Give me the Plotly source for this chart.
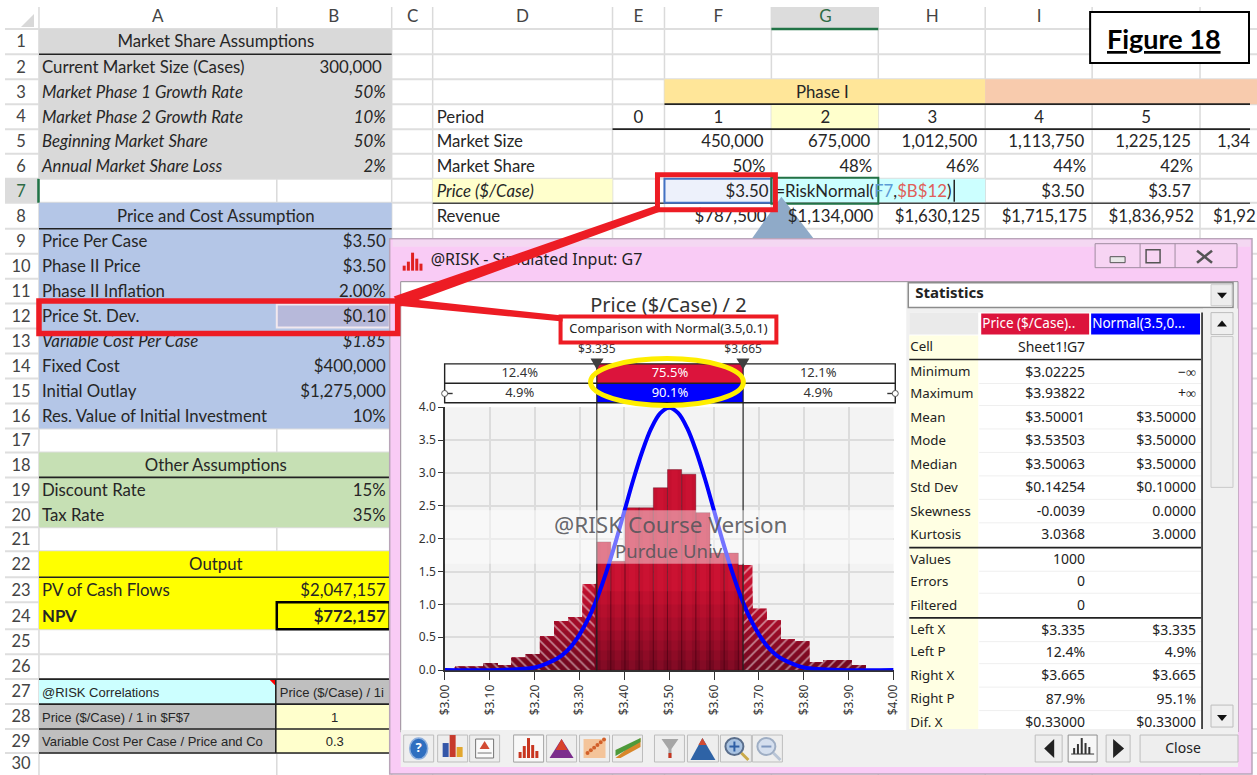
import numpy as np
import plotly.graph_objects as go
from collections import defaultdict

W, H = 1257, 775
OFF = 8
FW, FH = W - 2 * OFF, H - 2 * OFF   # span of the plot area on the page

# ---------- chart data ----------
hist_min, hist_max = 3.02225, 3.93822
hist_density = [0.05, 0.05, 0.11, 0.07, 0.19, 0.24, 0.51, 0.745, 0.805, 1.31,
                1.95, 1.655, 2.47, 2.47, 2.775, 3.05, 2.98, 2.395, 1.78, 1.78,
                1.6, 0.935, 0.755, 0.465, 0.44, 0.115, 0.145, 0.145, 0.07]
left_x, right_x = 3.335, 3.665
normal_x = [3.0, 3.1, 3.2, 3.24, 3.26, 3.28, 3.3, 3.32, 3.34, 3.36, 3.38, 3.4, 3.42, 3.44, 3.46, 3.48, 3.5,
            3.52, 3.54, 3.56, 3.58, 3.6, 3.62, 3.64, 3.66, 3.68, 3.7, 3.72, 3.74, 3.76, 3.8, 3.9, 4.0]
normal_y = [0.0, 0.0, 0.04, 0.14, 0.22, 0.35, 0.54, 0.79, 1.11, 1.5, 1.94, 2.42, 2.9, 3.33, 3.68, 3.91, 3.99,
            3.91, 3.68, 3.33, 2.9, 2.42, 1.94, 1.5, 1.11, 0.79, 0.54, 0.35, 0.22, 0.14, 0.04, 0.0, 0.0]
band_top = ["12.4%", "75.5%", "12.1%"]
band_bot = ["4.9%", "90.1%", "4.9%"]

# ---------- sheet data ----------
row_edges = [28, 53.3, 78.3, 103.3, 128.3, 153, 178, 202, 228, 253, 278, 303, 328, 353, 378, 403, 428, 452,
             477, 502, 527, 551, 577, 602, 629, 654, 679, 704, 729, 753, 778]
col_letters = ["A", "B", "C", "D", "E", "F", "G", "H", "I"]
col_centers = [157, 333, 412, 522, 638, 718, 825, 932, 1039]
col_edges = [38, 276, 391, 432, 612, 664, 771, 878, 985, 1092, 1200]
left_rows = [
    (2, "Current Market Size (Cases)", "300,000", 0), (3, "Market Phase 1 Growth Rate", "50%", 1),
    (4, "Market Phase 2 Growth Rate", "10%", 1), (5, "Beginning Market Share", "50%", 1),
    (6, "Annual Market Share Loss", "2%", 1), (9, "Price Per Case", "$3.50", 0),
    (10, "Phase II Price", "$3.50", 0), (11, "Phase II Inflation", "2.00%", 0),
    (12, "Price St. Dev.", "$0.10", 0), (13, "Variable Cost Per Case", "$1.85", 1),
    (14, "Fixed Cost", "$400,000", 0), (15, "Initial Outlay", "$1,275,000", 0),
    (16, "Res. Value of Initial Investment", "10%", 0), (19, "Discount Rate", "15%", 0),
    (20, "Tax Rate", "35%", 0), (23, "PV of Cash Flows", "$2,047,157", 0)]
section_heads = [(1, "Market Share Assumptions"), (8, "Price and Cost Assumption"),
                 (18, "Other Assumptions"), (22, "Output")]
periods = ["0", "1", "2", "3", "4", "5"]
period_x = [638, 718, 825, 932, 1039, 1146]
right_right = [763, 870, 977, 1084, 1191]
market_size = ["450,000", "675,000", "1,012,500", "1,113,750", "1,225,125"]
market_share = ["50%", "48%", "46%", "44%", "42%"]
revenue = ["$787,500", "$1,134,000", "$1,630,125", "$1,715,175", "$1,836,952"]

# ---------- statistics panel data ----------
stat_rows = [("Cell", "Sheet1!G7", "", 347.5), ("Minimum", "$3.02225", "−∞", 372.5), ("Maximum", "$3.93822", "+∞", 394.5),
             ("Mean", "$3.50001", "$3.50000", 418), ("Mode", "$3.53503", "$3.50000", 441.5),
             ("Median", "$3.50063", "$3.50000", 465), ("Std Dev", "$0.14254", "$0.10000", 488.5),
             ("Skewness", "-0.0039", "0.0000", 512), ("Kurtosis", "3.0368", "3.0000", 535.5),
             ("Values", "1000", "", 560.5), ("Errors", "0", "", 582.5), ("Filtered", "0", "", 606),
             ("Left X", "$3.335", "$3.335", 631), ("Left P", "12.4%", "4.9%", 653),
             ("Right X", "$3.665", "$3.665", 676.5), ("Right P", "87.9%", "95.1%", 700),
             ("Dif. X", "$0.33000", "$0.33000", 723.5)]

SHEET = "Lato"
UI = "Noto Sans"
RED = "#ED1C24"
FS = 16.8
shapes = []
texts = defaultdict(list)


def px(x): return (x - OFF) / FW
def py(y): return 1 - (y - OFF) / FH


def rect(x0, y0, x1, y1, fill=None, line=None, lw=0, layer="below"):
    shapes.append(dict(type="rect", xref="paper", yref="paper", x0=px(x0), x1=px(x1), y0=py(y0), y1=py(y1),
                       fillcolor=fill or "rgba(0,0,0,0)", line=dict(color=line or "rgba(0,0,0,0)", width=lw),
                       layer=layer))


def seg(x0, y0, x1, y1, color, lw=1, layer="below"):
    shapes.append(dict(type="line", xref="paper", yref="paper", x0=px(x0), x1=px(x1), y0=py(y0), y1=py(y1),
                       line=dict(color=color, width=lw), layer=layer))


def poly(pts, fill, layer="below"):
    d = "M " + " L ".join(f"{px(a):.5f},{py(b):.5f}" for a, b in pts) + " Z"
    shapes.append(dict(type="path", xref="paper", yref="paper", path=d, fillcolor=fill,
                       line=dict(width=0), layer=layer))


def ell(x0, y0, x1, y1, fill=None, line=None, lw=0, layer="below"):
    shapes.append(dict(type="circle", xref="paper", yref="paper", x0=px(x0), x1=px(x1), y0=py(y0), y1=py(y1),
                       fillcolor=fill or "rgba(0,0,0,0)", line=dict(color=line or "rgba(0,0,0,0)", width=lw),
                       layer=layer))


def txt(x, y, s, size=FS, color="#262626", al="l", fam=SHEET):
    texts[(fam, size, color, al)].append((x, y, s))


def rowc(r): return (row_edges[r - 1] + row_edges[r]) / 2 + 1.7


# ---------- sheet grid ----------
for c in col_edges:
    seg(c, 6, c, 775, "#DADADA", 1.5)
for r in row_edges[:-1]:
    seg(4, r, 1257, r, "#DEDEDE", 2)
rect(771, 6, 878, 27, fill="#DCDCDC")
seg(771, 28, 878, 28, "#217346", 2.5)
rect(4, 178, 37, 202, fill="#DCDCDC")
seg(37.5, 178, 37.5, 202, "#217346", 2.5)
poly([(20, 26), (33, 26), (33, 13)], "#D8D8D8")

for l, x in zip(col_letters, col_centers):
    txt(x, 17, l, 17, "#2E6B45" if l == "G" else "#444444", "c")
for i in range(1, 31):
    txt(20, rowc(i) if i < 30 else 765, str(i), 16.5, "#2E6B45" if i == 7 else "#444444", "c")

# ---------- sheet fills ----------
rect(38, row_edges[0], 391, row_edges[6], fill="#D9D9D9")
rect(38, row_edges[7], 391, row_edges[16], fill="#B4C6E7")
rect(38, row_edges[17], 391, row_edges[20], fill="#C6E0B4")
rect(38, row_edges[21], 391, row_edges[24], fill="#FFFF00")
rect(38, 679, 275, 704, fill="#CCFFFF")
rect(275, 679, 391, 704, fill="#BFBFBF")
rect(38, 704, 275, 753, fill="#BFBFBF")
rect(275, 704, 391, 753, fill="#FFFFCC")
poly([(268, 679), (275, 679), (275, 686)], "#FF0000")
for y in (679, 704, 729, 753):
    seg(38, y, 391, y, "#222222", 1.6)
seg(275, 679, 275, 753, "#222222", 1.6)
for r in (1, 8, 18, 22):
    seg(38, row_edges[r], 391, row_edges[r], "#222222", 1.6)
rect(276, 602, 389, 629, line="#000000", lw=2.5)
rect(276, 304, 389, 327, fill="#B7B9DA", line="#F2E8EE", lw=2)

rect(664, 78.3, 985, 103.3, fill="#FFE699")
rect(985, 78.3, 1257, 103.3, fill="#F8CBAD")
rect(771, 103.3, 878, 128.3, fill="#FFFFCC")
rect(432, 178, 612, 202, fill="#FFFFCC")
rect(771, 178, 985, 202, fill="#CCFFFF")
seg(664, 103.3, 1250, 103.3, "#222222", 1.6)
seg(612, 128.3, 1250, 128.3, "#222222", 1.6)
seg(432, 202.5, 1250, 202.5, "#444444", 1.6)
rect(664, 178, 771, 202, fill="#EDF1FB", line="#4472C4", lw=2)
rect(771, 177, 878, 203, line="#217346", lw=2)
seg(954, 179, 954, 201, "#222222", 1.5)
poly([(750, 240), (815, 240), (781, 196)], "#8FAAC8")

# ---------- window chrome ----------
rect(389, 238, 1252, 774, fill="#F9CBF5", line="#B9A5B9", lw=1.5)
rect(392, 239, 1250, 246, fill="#F4D8F2")
rect(1095, 243, 1237, 267, fill="#F7D4F3", line="#A08CA0", lw=1)
seg(1140, 243, 1140, 267, "#A08CA0", 1)
seg(1175, 243, 1175, 267, "#A08CA0", 1)
rect(1110, 256, 1125, 262, fill="#E8E8E8", line="#555555", lw=1)
rect(1146, 249, 1160, 262, line="#555555", lw=1.5)
seg(1197, 250, 1212, 262, "#555555", 2.5)
seg(1212, 250, 1197, 262, "#555555", 2.5)
for i, h in enumerate((5, 9, 18, 12, 7)):
    rect(402 + 4.2 * i, 270 - h, 405 + 4.2 * i, 270, fill="#E02020")
rect(400, 281, 1238, 732, fill="#F0F0F0", line="#9A8F9A", lw=1)
rect(401, 282, 906, 731, fill="#FFFFFF")
rect(444.3, 406.7, 893.3, 670, fill="#F3F3F3")

# ---------- chart bands ----------
LX, RX = 596.3, 742.7
rect(444, 363.3, LX, 382.7, fill="#FFFFFF")
rect(RX, 363.3, 895, 382.7, fill="#FFFFFF")
rect(444, 382.7, LX, 402.3, fill="#FFFFFF")
rect(RX, 382.7, 895, 402.3, fill="#FFFFFF")
rect(LX, 363.3, RX, 382.7, fill="#DC143C")
rect(LX, 382.7, RX, 402.3, fill="#0000FF")
rect(444, 363.3, 895, 402.3, line="#222222", lw=1.4)
seg(444, 382.7, 895, 382.7, "#222222", 1.4)
seg(446, 393, 452, 393, "#333333", 1.4)
seg(887, 393, 893, 393, "#333333", 1.4)
ell(441, 390, 447, 396, fill="#FFFFFF", line="#555555", lw=1)
ell(892, 390, 898, 396, fill="#FFFFFF", line="#555555", lw=1)
txt((444 + LX) / 2 - 1, 373.5, band_top[0], 13, "#333333", "c", UI)
txt((LX + RX) / 2, 373.5, band_top[1], 13, "#FFFFFF", "c", UI)
txt((RX + 895) / 2 - 1, 373.5, band_top[2], 13, "#333333", "c", UI)
txt((444 + LX) / 2 - 1, 393, band_bot[0], 13, "#333333", "c", UI)
txt((LX + RX) / 2, 393, band_bot[1], 13, "#FFFFFF", "c", UI)
txt((RX + 895) / 2 - 1, 393, band_bot[2], 13, "#333333", "c", UI)
txt(LX, 349, f"${left_x:.3f}", 12, "#333333", "c", UI)
txt(RX, 349, f"${right_x:.3f}", 12, "#333333", "c", UI)
txt(668, 306, "Price ($/Case) / 2", 20, "#333333", "c", UI)
txt(668, 329.5, "Comparison with Normal(3.5,0.1)", 12.8, "#222222", "c", UI)

# ---------- statistics panel ----------
rect(908, 282, 1233, 307, fill="#FFFFFF", line="#8C8C8C", lw=1.5)
rect(1211, 284, 1232, 305, fill="#EDEDED", line="#CFCFCF", lw=1)
poly([(1217, 292), (1227, 292), (1222, 298)], "#111111")
txt(915, 294, "<b>Statistics</b>", 15, "#222222", "l", UI)
rect(909, 312, 1202, 729, fill="#FFFFFF")
rect(909, 312, 978, 334, fill="#EAEAEA")
rect(981, 313, 1089, 334, fill="#DC143C")
rect(1091, 313, 1200, 334, fill="#0000FF")
rect(909, 335, 978, 729, fill="#FFFFE3")
for y in (359, 547.3, 617.7):
    seg(909, y, 1201, y, "#222222", 1.6)
for (lab, a, b, y) in stat_rows:
    if lab not in ("Cell", "Kurtosis", "Filtered", "Dif. X"):
        seg(979, y + 10.5, 1201, y + 10.5, "#EFEFEF", 1)
    txt(910, y, lab, 13.3, "#222222", "l", UI)
    txt(1085, y, a, 14, "#222222", "r", UI)
    if b:
        txt(1196, y, b, 14, "#222222", "r", UI)
seg(1202, 312, 1202, 729, "#222222", 1.6)
txt(982, 324, "Price ($/Case)..", 13.5, "#FFFFFF", "l", UI)
txt(1092, 324, "Normal(3.5,0...", 13.5, "#FFFFFF", "l", UI)
rect(1203, 308, 1238, 730, fill="#F0F0F0")
rect(1211, 312, 1233, 334, fill="#EFEFEF", line="#BDBDBD", lw=1)
poly([(1217, 326), (1227, 326), (1222, 320)], "#111111")
rect(1211, 336, 1233, 487, fill="#EEEEEE", line="#C9C9C9", lw=1)
rect(1211, 705, 1233, 727, fill="#EFEFEF", line="#BDBDBD", lw=1)
poly([(1217, 715), (1227, 715), (1222, 721)], "#111111")

# ---------- toolbar ----------
rect(400, 730, 1238, 767, fill="#F0F0F0")
for a, b in [(403, 433), (437, 467), (469, 499), (513, 543), (546, 576), (579, 609), (612, 642),
             (654, 684), (687, 718), (720, 751), (752, 782), (1035, 1062), (1106, 1130), (1140, 1238)]:
    rect(a, 735, b, 762, fill="#EEEEEE", line="#BDBDBD", lw=1)
rect(1068, 735, 1097, 762, fill="#F7F7F7", line="#8F8F8F", lw=1)
ell(409, 738, 427, 759, fill="#2F6FC0", line="#8FB0DD", lw=1.5)
txt(418, 748.5, "<b>?</b>", 13, "#FFFFFF", "c", UI)
for i, (h, c) in enumerate([(14, "#3557A8"), (22, "#C73A2C"), (10, "#E2A72E")]):
    rect(442 + 7 * i, 757 - h, 448 + 7 * i, 757, fill=c)
rect(475, 739, 493, 758, fill="#FAFAFA", line="#777777", lw=1)
poly([(479, 749), (489, 749), (484, 741)], "#D24A32")
seg(477, 753, 491, 753, "#777777", 1)
rect(513, 735, 543, 762, fill="#F8F8F8", line="#AAAAAA", lw=1)
for i, h in enumerate((6, 12, 20, 13, 7)):
    rect(518 + 4.2 * i, 758 - h, 521 + 4.2 * i, 758, fill="#C8351F")
poly([(549, 758), (561, 739), (573, 758)], "#7B2D8C")
poly([(555, 750), (561, 739), (567, 750)], "#D8412A")
rect(583, 739, 605, 758, fill="#F4C49A")
for i in range(6):
    ell(585 + 3.3 * i, 755 - 2.7 * i, 589 + 3.3 * i, 751 - 2.7 * i, fill="#D2602A")
poly([(615, 758), (640, 738), (640, 747), (620, 758)], "#D8872A")
poly([(615, 756), (640, 742), (640, 738), (615, 750)], "#4E9A3A")
poly([(661, 739), (678, 739), (671, 749), (671, 758), (668, 758), (668, 749)], "#A6A6A6")
rect(668, 753, 671, 758, fill="#C8351F")
poly([(690, 760), (702, 738), (715, 760)], "#2E63A6")
poly([(698, 745), (702, 738), (706, 745)], "#D24A32")
ell(725, 738, 743, 755, fill="#A9C3E2", line="#5A6E8C", lw=2)
seg(741, 753, 748, 760, "#C9A94A", 3)
seg(729, 746.5, 739, 746.5, "#2F5FA5", 2)
seg(734, 741.5, 734, 751.5, "#2F5FA5", 2)
ell(757, 738, 775, 755, fill="#D5DFEE", line="#9FAEC4", lw=2)
seg(773, 753, 780, 760, "#B9C5D6", 3)
seg(761, 746.5, 771, 746.5, "#7F97BF", 2)
poly([(1054, 739), (1054, 758), (1044, 748.5)], "#222222")
poly([(1113, 739), (1113, 758), (1124, 748.5)], "#222222")
for i, h in enumerate((6, 10, 16, 11, 7)):
    rect(1073 + 3.8 * i, 754 - h, 1075 + 3.8 * i, 754, fill="#333333")
seg(1071, 754, 1094, 754, "#333333", 1)
txt(1183, 749.5, "Close", 14, "#222222", "c", UI)
txt(430, 260, "@RISK - Simulated Input: G7", 16, "#222222", "l", UI)

# ---------- annotation overlays (above traces) ----------
rect(1090, 11, 1249, 62, fill="#FFFFFF", line="#000000", lw=2, layer="above")
poly([(655, 205), (662, 210), (400, 306), (393, 296)], RED, layer="above")
poly([(395, 297), (562, 315), (562, 321), (395, 305)], RED, layer="above")
rect(657, 174, 775, 209, line=RED, lw=5, layer="above")
rect(38, 300.5, 397, 333, line=RED, lw=5.5, layer="above")
rect(560, 316, 776, 342, line=RED, lw=4, layer="above")
seg(596.3, 363, 596.3, 670, "#222222", 1.2, "above")
seg(742.7, 363, 742.7, 670, "#222222", 1.2, "above")
poly([(590, 358), (603, 358), (596.3, 369)], "#404040", layer="above")
poly([(736, 358), (749, 358), (742.7, 369)], "#404040", layer="above")
ell(590, 358, 743, 405, line="#FFEE00", lw=5, layer="above")
rect(444.3, 510, 893.3, 563.5, fill="rgba(255,255,255,0.45)", layer="above")

# ---------- sheet text ----------
for r, s in section_heads:
    txt(215, rowc(r), s, FS, "#262626", "c")
for r, a, b, it in left_rows:
    ta, tb = (f"<i>{a}</i>", f"<i>{b}</i>") if it else (a, b)
    y = rowc(r)
    txt(41, y, ta)
    txt(385 if r not in (2,) else 381, y, tb, al="r")
txt(41, rowc(24), "<b>NPV</b>")
txt(385, rowc(24), "<b>$772,157</b>", al="r")
txt(41, rowc(27), "@RISK Correlations", 13, fam="Liberation Sans")
txt(279, rowc(27), "Price ($/Case) / 1i", 13, fam="Liberation Sans")
txt(41, rowc(28), "Price ($/Case) / 1 in $F$7", 13, fam="Liberation Sans")
txt(41, rowc(29), "Variable Cost Per Case / Price and Co", 13, fam="Liberation Sans")
txt(334, rowc(28), "1", 13, al="c", fam="Liberation Sans")
txt(334, rowc(29), "0.3", 13, al="c", fam="Liberation Sans")
txt(822, rowc(3), "Phase I", al="c")
txt(436, rowc(4), "Period")
txt(436, rowc(5), "Market Size")
txt(436, rowc(6), "Market Share")
txt(436, rowc(7), "<i>Price ($/Case)</i>")
txt(436, rowc(8), "Revenue")
for x, p in zip(period_x, periods):
    txt(x, rowc(4), p, al="c")
txt(1250, rowc(4) + 3, "6", al="c")
for x, a, b, c in zip(right_right, market_size, market_share, revenue):
    txt(x, rowc(5), a, al="r")
    txt(x + 2, rowc(6), b, al="r")
    txt(x + 3, rowc(8), c, al="r")
txt(1217, rowc(5), "1,34")
txt(1213, rowc(8), "$1,92")
txt(768, rowc(7), "$3.50", al="r")
txt(1084, rowc(7), "$3.50", al="r")
txt(1191, rowc(7), "$3.57", al="r")
txt(775, rowc(7), "=RiskNormal(<span style='color:#5B9BD5'>F7</span>,<span style='color:#E0605A'>$B$12</span>)")

# ---------- histogram ----------
edges = np.linspace(hist_min, hist_max, len(hist_density) + 1)
dens = np.array(hist_density)


def clip(lo, hi):
    a = np.maximum(edges[:-1], lo)
    b = np.minimum(edges[1:], hi)
    keep = b > a
    return (a[keep] + b[keep]) / 2, (b - a)[keep], dens[keep]


data = []
levels = [(4.0, "#C4102F"), (1.2, "#B80E2C"), (1.0, "#AC0D2A"), (0.8, "#A10C28"), (0.6, "#950B26"),
          (0.45, "#8A0A24"), (0.3, "#7F0922"), (0.15, "#740820")]
sections = [(3.0, left_x, "\\"), (left_x, right_x, ""), (right_x, 4.0, "/")]
for lo, hi, hatch in sections:
    cx, wd, hv = clip(lo, hi)
    for lev, col in levels:
        marker = dict(color=col, line=dict(width=0))
        if hatch:
            marker["pattern"] = dict(shape=hatch, bgcolor=col, fgcolor="#FFFFFF", size=7, solidity=0.24,
                                     fillmode="overlay")
        data.append(go.Bar(x=cx, y=np.minimum(hv, lev), width=wd, marker=marker, hoverinfo="skip",
                           showlegend=False, xaxis="x", yaxis="y"))
    if not hatch:
        data.append(go.Bar(x=cx, y=hv, width=wd * 0.45, marker=dict(color="rgba(255,30,70,0.12)", line=dict(width=0)),
                           hoverinfo="skip", showlegend=False))
        data.append(go.Bar(x=cx, y=hv, width=wd, marker=dict(color="rgba(0,0,0,0)", line=dict(color="rgba(70,0,20,0.35)", width=1)),
                           hoverinfo="skip", showlegend=False))

data.append(go.Scatter(x=normal_x, y=normal_y, mode="lines", line=dict(color="#0000FF", width=4, shape="spline"),
                       hoverinfo="skip", showlegend=False, xaxis="x", yaxis="y"))

# ---------- text traces on pixel overlay ----------
POS = {"l": "middle right", "r": "middle left", "c": "middle center"}
for (fam, size, color, al), items in texts.items():
    data.append(go.Scatter(x=[i[0] for i in items], y=[i[1] for i in items], text=[i[2] for i in items],
                           mode="text", textposition=POS[al], textfont=dict(family=fam, size=size, color=color),
                           hoverinfo="skip", showlegend=False, xaxis="x2", yaxis="y2", cliponaxis=False))

fig = go.Figure(data=data)
fig.update_layout(
    width=W, height=H, margin=dict(l=0, r=0, t=0, b=0), autosize=False, barmode="overlay",
    paper_bgcolor="#FFFFFF", plot_bgcolor="rgba(0,0,0,0)", shapes=shapes, showlegend=False,
    xaxis=dict(domain=[px(444.3), px(893.3)], range=[3, 4], tick0=3, dtick=0.1, tickformat="$.2f", tickangle=-90,
               showgrid=True, gridcolor="#DCDCDC", gridwidth=1.5, showline=True, linecolor="#333333", linewidth=1.5,
               ticks="outside", ticklen=8, tickcolor="#333333", zeroline=False, anchor="y", fixedrange=True,
               tickfont=dict(family=UI, size=12, color="#333333"), layer="below traces"),
    yaxis=dict(domain=[py(670), py(406.7)], range=[0, 4], tick0=0, dtick=0.5, tickformat=".1f",
               showgrid=True, gridcolor="#DCDCDC", gridwidth=1.5, showline=True, linecolor="#333333", linewidth=1.5,
               ticks="outside", ticklen=5, tickcolor="#333333", zeroline=False, anchor="x", fixedrange=True,
               tickfont=dict(family=UI, size=12, color="#333333"), layer="below traces"),
    xaxis2=dict(domain=[0, 1], range=[OFF, W - OFF], visible=False, anchor="y2", fixedrange=True),
    yaxis2=dict(domain=[0, 1], range=[H - OFF, OFF], visible=False, anchor="x2", fixedrange=True),
    annotations=[
        dict(xref="paper", yref="paper", x=px(670), y=py(524), text="@RISK Course Version", showarrow=False,
             xanchor="center", yanchor="middle", font=dict(family=UI, size=22.5, color="rgba(85,85,90,0.9)")),
        dict(xref="paper", yref="paper", x=px(669), y=py(550.5), text="Purdue Univ", showarrow=False,
             xanchor="center", yanchor="middle", font=dict(family=UI, size=18.5, color="rgba(85,85,90,0.9)")),
        dict(xref="paper", yref="paper", x=px(1164), y=py(38), text="<b><u>Figure 18</u></b>", showarrow=False,
             xanchor="center", yanchor="middle", font=dict(family=SHEET, size=27, color="#000000")),
    ],
)
fig.write_html("out.html", config=dict(displayModeBar=False),
               post_script="document.body.style.margin='0';document.body.style.overflow='hidden';")
